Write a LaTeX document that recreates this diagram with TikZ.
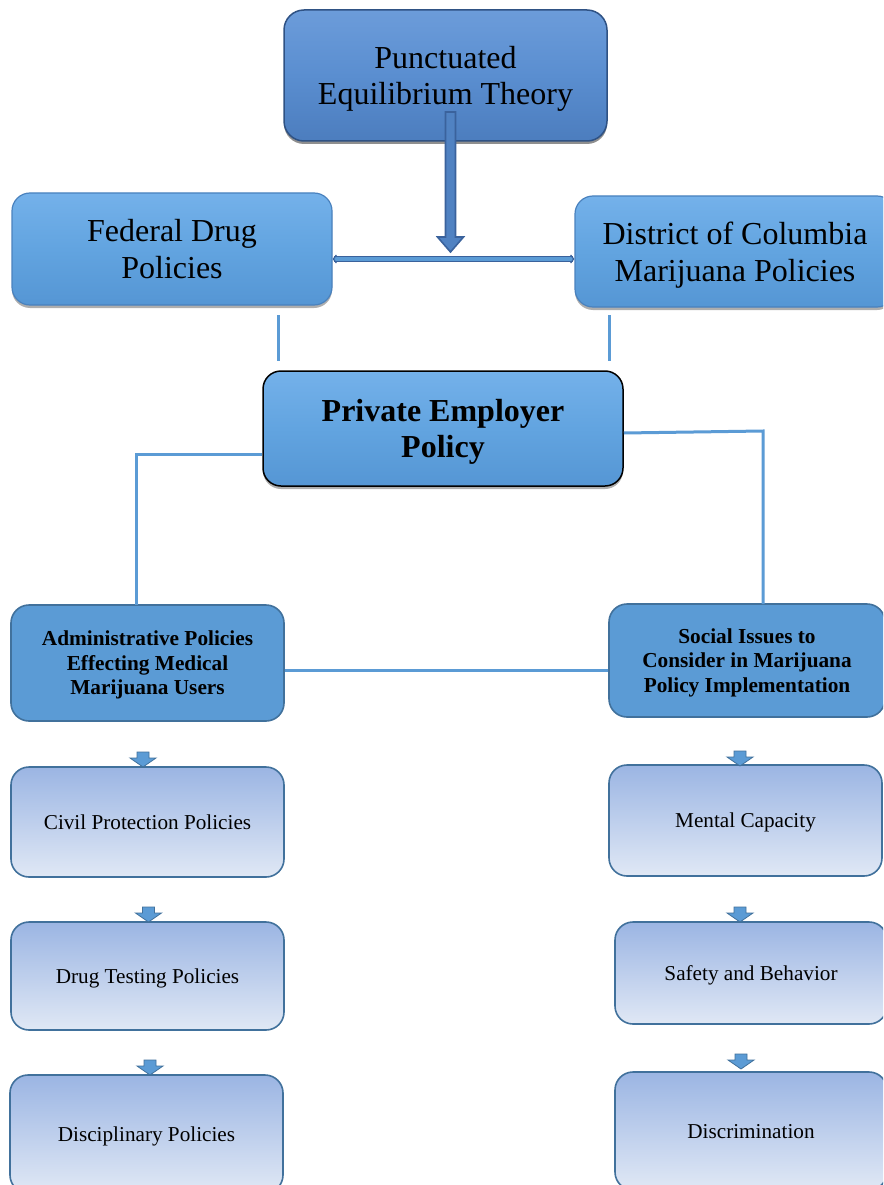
\documentclass[tikz,border=0pt]{standalone}
\usepackage{fontspec}
\setmainfont{Liberation Serif}
\usetikzlibrary{shadows,arrows.meta,calc}
\definecolor{petblue}{HTML}{5A8ED0}
\definecolor{petlight}{HTML}{6C9CDA}
\definecolor{petdark}{HTML}{4C7DBE}
\definecolor{petedge}{HTML}{2F5284}
\definecolor{midblue}{HTML}{62A4E0}
\definecolor{midlight}{HTML}{74B1EA}
\definecolor{middark}{HTML}{5596D4}
\definecolor{midedge}{HTML}{4A82BE}
\definecolor{accent}{HTML}{5B9BD5}
\definecolor{edgeblue}{HTML}{41719C}
\definecolor{arrowblue}{HTML}{3A629C}
\definecolor{arrowfill}{HTML}{5082C2}
\definecolor{gradtop}{HTML}{9BB5E3}
\definecolor{gradbot}{HTML}{E0E8F5}
\newcommand{\smallarrow}[2]{%
  \filldraw[fill=accent, draw=edgeblue, line width=0.8pt]
    (#1-6,#2) -- (#1+6,#2) -- (#1+6,#2+6) -- (#1+13,#2+6) -- (#1,#2+15)
    -- (#1-13,#2+6) -- (#1-6,#2+6) -- cycle;}
\begin{document}
\begin{tikzpicture}[x=1pt,y=-1pt,
  petbox/.style={rectangle, rounded corners=20pt, draw=petedge, line width=1.5pt,
    top color=petlight, bottom color=petdark, middle color=petblue,
    drop shadow={shadow xshift=0pt, shadow yshift=-3pt, opacity=0.55, fill=black!80},
    align=center, text=black, text depth=0pt, font=\fontsize{32}{36.5}\selectfont},
  topbox/.style={rectangle, rounded corners=18pt, draw=midedge, line width=1.2pt,
    top color=midlight, bottom color=middark, middle color=midblue,
    drop shadow={shadow xshift=0pt, shadow yshift=-3pt, opacity=0.45, fill=black!70},
    align=center, text=black, text depth=0pt, font=\fontsize{32}{36.5}\selectfont},
  privbox/.style={topbox, draw=black, line width=1.5pt, font=\bfseries\fontsize{32}{36.5}\selectfont},
  midbox/.style={rectangle, rounded corners=18pt, draw=edgeblue, line width=1.6pt,
    fill=accent, align=center, text=black, text depth=0pt,
    font=\bfseries\fontsize{21.3}{24.5}\selectfont},
  lowbox/.style={rectangle, rounded corners=18pt, draw=edgeblue, line width=1.6pt,
    top color=gradtop, bottom color=gradbot, align=center, text=black, text depth=0pt,
    font=\fontsize{21.2}{24}\selectfont},
  link/.style={draw=accent, line width=3pt},
  dlink/.style={draw=arrowblue, line width=1.2pt, double=accent, double distance=3.2pt}
]
\useasboundingbox (0,0) rectangle (883,1185);
\clip (0,0) rectangle (883,1185);
\fill[white] (0,0) rectangle (883,1185);

% top level
\node[petbox, minimum width=323pt, minimum height=131pt] (pet) at (445.5,75.5)
  {Punctuated\\Equilibrium Theory};
\node[topbox, minimum width=320pt, minimum height=112pt] (fed) at (172,249)
  {Federal Drug\\Policies};
\node[topbox, minimum width=320pt, minimum height=111pt] (dc) at (735,251.5)
  {District of Columbia\\Marijuana Policies};
\node[privbox, minimum width=360pt, minimum height=115pt] (priv) at (443,428.5)
  {Private Employer\\Policy};

% middle level
\node[midbox, minimum width=273pt, minimum height=116pt] (adm) at (147.5,663)
  {Administrative Policies\\Effecting Medical\\Marijuana Users};
\node[midbox, minimum width=276pt, minimum height=113pt] (soc) at (747,660.5)
  {Social Issues to\\Consider in Marijuana\\Policy Implementation};

% lower level
\node[lowbox, minimum width=273pt, minimum height=110pt] (civ) at (147.5,822) {Civil Protection Policies};
\node[lowbox, minimum width=273pt, minimum height=108pt] (drug) at (147.5,976) {Drug Testing Policies};
\node[lowbox, minimum width=273pt, minimum height=118pt] (disc) at (146.5,1134) {Disciplinary Policies};
\node[lowbox, minimum width=273pt, minimum height=111pt] (ment) at (745.5,820.5) {Mental Capacity};
\node[lowbox, minimum width=272pt, minimum height=102pt] (safe) at (751,973) {Safety and Behavior};
\node[lowbox, minimum width=272pt, minimum height=118pt] (discr) at (751,1131) {Discrimination};

% big arrow from the theory box
\coordinate (bigtop) at (450.5,112);
\coordinate (bigtip) at (450.5,252);
\filldraw[fill=arrowfill, draw=arrowblue, line width=1.6pt]
  ($(bigtop)+(-5,0)$) -- ($(bigtop)+(5,0)$) -- ($(bigtip)+(5,-15)$) -- ($(bigtip)+(13,-15)$)
  -- (bigtip) -- ($(bigtip)+(-13,-15)$) -- ($(bigtip)+(-5,-15)$) -- cycle;

% federal <-> DC
\draw[dlink, {Straight Barb[length=3pt,width=8pt]}-{Straight Barb[length=3pt,width=8pt]}]
  ([yshift=-10pt]fed.east) -- ([yshift=-7.5pt]dc.west);

% stubs under the top boxes
\coordinate (s1a) at (278,315); \coordinate (s1b) at (278,361);
\coordinate (s2a) at (609,315); \coordinate (s2b) at (609,361);
\draw[link] (s1a) -- (s1b);
\draw[link] (s2a) -- (s2b);

% private employer to middle boxes
\draw[link] ([yshift=-25.5pt]priv.west) -- (136,454) -- (136,605);
\draw[link] ([yshift=-4.5pt]priv.east) -- (763,431) -- (763,604);
\draw[link] ([yshift=-7pt]adm.east) -- ([yshift=-9.5pt]soc.west);

% small block arrows
\smallarrow{143}{752}
\smallarrow{148.5}{907}
\smallarrow{150}{1060}
\smallarrow{740}{751}
\smallarrow{740}{907}
\smallarrow{741}{1054}
\end{tikzpicture}
\end{document}
